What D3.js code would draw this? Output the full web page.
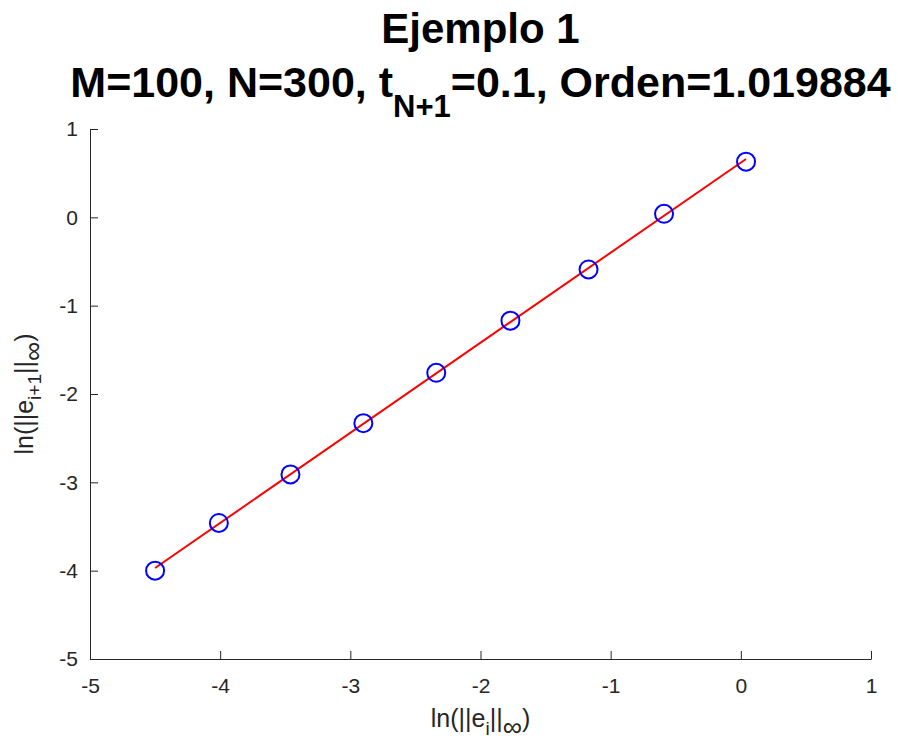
<!DOCTYPE html>
<html>
	<head>
		<meta http-equiv="Content-Type" content="text/html;charset=utf-8"/>
		<title>Ejemplo 1</title>
		<script src="https://d3js.org/d3.v7.min.js"></script>
		<style type="text/css">
			body { margin: 0; background: #fff; }
			text { font-family: "Liberation Sans", Arial, Helvetica, sans-serif; fill: #262626; }
			.axis path, .axis line { stroke: #262626; stroke-width: 1; }
		</style>
	</head>
	<body>
		<script type="text/javascript">

			//Data
			var lnErr = [-4.50, -4.01, -3.46, -2.90, -2.34, -1.77, -1.17, -0.59, 0.04];
			var lnErrNext = [-4.00, -3.46, -2.91, -2.33, -1.76, -1.17, -0.59, 0.04, 0.63];
			var xTicks = [-5, -4, -3, -2, -1, 0, 1];
			var yTicks = [-5, -4, -3, -2, -1, 0, 1];
			var orden = 1.019884;
			var intercept = 0.62;

			var w = 898,
				h = 744,
				mLeft = 90,
				mRight = 871,
				mTop = 129,
				mBottom = 659;

			var x = d3.scaleLinear().domain([-5, 1]).range([mLeft, mRight]);
			var y = d3.scaleLinear().domain([-5, 1]).range([mBottom, mTop]);

			var svg = d3.select("body").append("svg")
						.attr("width", w)
						.attr("height", h);

			//Axes (MATLAB style, ticks pointing inward)
			svg.append("g")
				.attr("class", "axis")
				.attr("transform", "translate(0," + mBottom + ")")
				.call(d3.axisBottom(x).tickValues(xTicks).tickSizeInner(-8).tickSizeOuter(0).tickPadding(19).tickFormat(function(d) { return String(d); }))
				.call(function(g) { g.select(".domain").attr("fill", "none"); });

			svg.append("g")
				.attr("class", "axis")
				.attr("transform", "translate(" + mLeft + ",0)")
				.call(d3.axisLeft(y).tickValues(yTicks).tickSizeInner(-8).tickSizeOuter(0).tickPadding(12).tickFormat(function(d) { return String(d); }))
				.call(function(g) { g.select(".domain").attr("fill", "none"); });

			svg.selectAll(".axis").attr("font-family", null).attr("font-size", null);
			svg.selectAll(".axis text")
				.style("font-size", "21px")
				.style("fill", "#262626");

			//Fitted line
			var x0 = d3.min(lnErr), x1 = d3.max(lnErr);
			svg.append("line")
				.attr("x1", x(x0))
				.attr("y1", y(intercept + orden * x0))
				.attr("x2", x(x1))
				.attr("y2", y(intercept + orden * x1))
				.attr("stroke", "#ff0000")
				.attr("stroke-width", 2);

			//Data points
			svg.selectAll("circle.pt")
				.data(lnErr)
				.enter()
				.append("circle")
				.attr("class", "pt")
				.attr("cx", function(d) { return x(d); })
				.attr("cy", function(d, i) { return y(lnErrNext[i]); })
				.attr("r", 9)
				.attr("fill", "none")
				.attr("stroke", "#0000ff")
				.attr("stroke-width", 2);

			//Title
			var cx = (mLeft + mRight) / 2;
			svg.append("text")
				.attr("x", cx)
				.attr("y", 43)
				.attr("text-anchor", "middle")
				.style("font-size", "42px")
				.style("font-weight", "bold")
				.style("fill", "#000")
				.text("Ejemplo 1");

			var t2 = svg.append("text")
				.attr("x", cx)
				.attr("y", 97)
				.attr("text-anchor", "middle")
				.style("font-size", "43px")
				.style("font-weight", "bold")
				.style("fill", "#000");
			t2.append("tspan").text("M=100, N=300, t");
			t2.append("tspan").attr("dy", 20).style("font-size", "31px").text("N+1");
			t2.append("tspan").attr("dy", -20).text("=0.1, Orden=" + orden);

			//Axis labels
			function label(sel, sub) {
				sel.append("tspan").text("ln(||e");
				sel.append("tspan").attr("dy", 8).style("font-size", "19px").text(sub);
				sel.append("tspan").attr("dy", -8).text("||");
				sel.append("tspan").attr("dy", 9).style("font-size", "27px").text("∞");
				sel.append("tspan").attr("dy", -9).text(")");
			}

			svg.append("text")
				.attr("x", cx)
				.attr("y", 727)
				.attr("text-anchor", "middle")
				.style("font-size", "25px")
				.call(label, "i");

			svg.append("text")
				.attr("transform", "translate(33," + ((mTop + mBottom) / 2) + ") rotate(-90)")
				.attr("text-anchor", "middle")
				.style("font-size", "25px")
				.call(label, "i+1");

		</script>
	</body>
</html>
